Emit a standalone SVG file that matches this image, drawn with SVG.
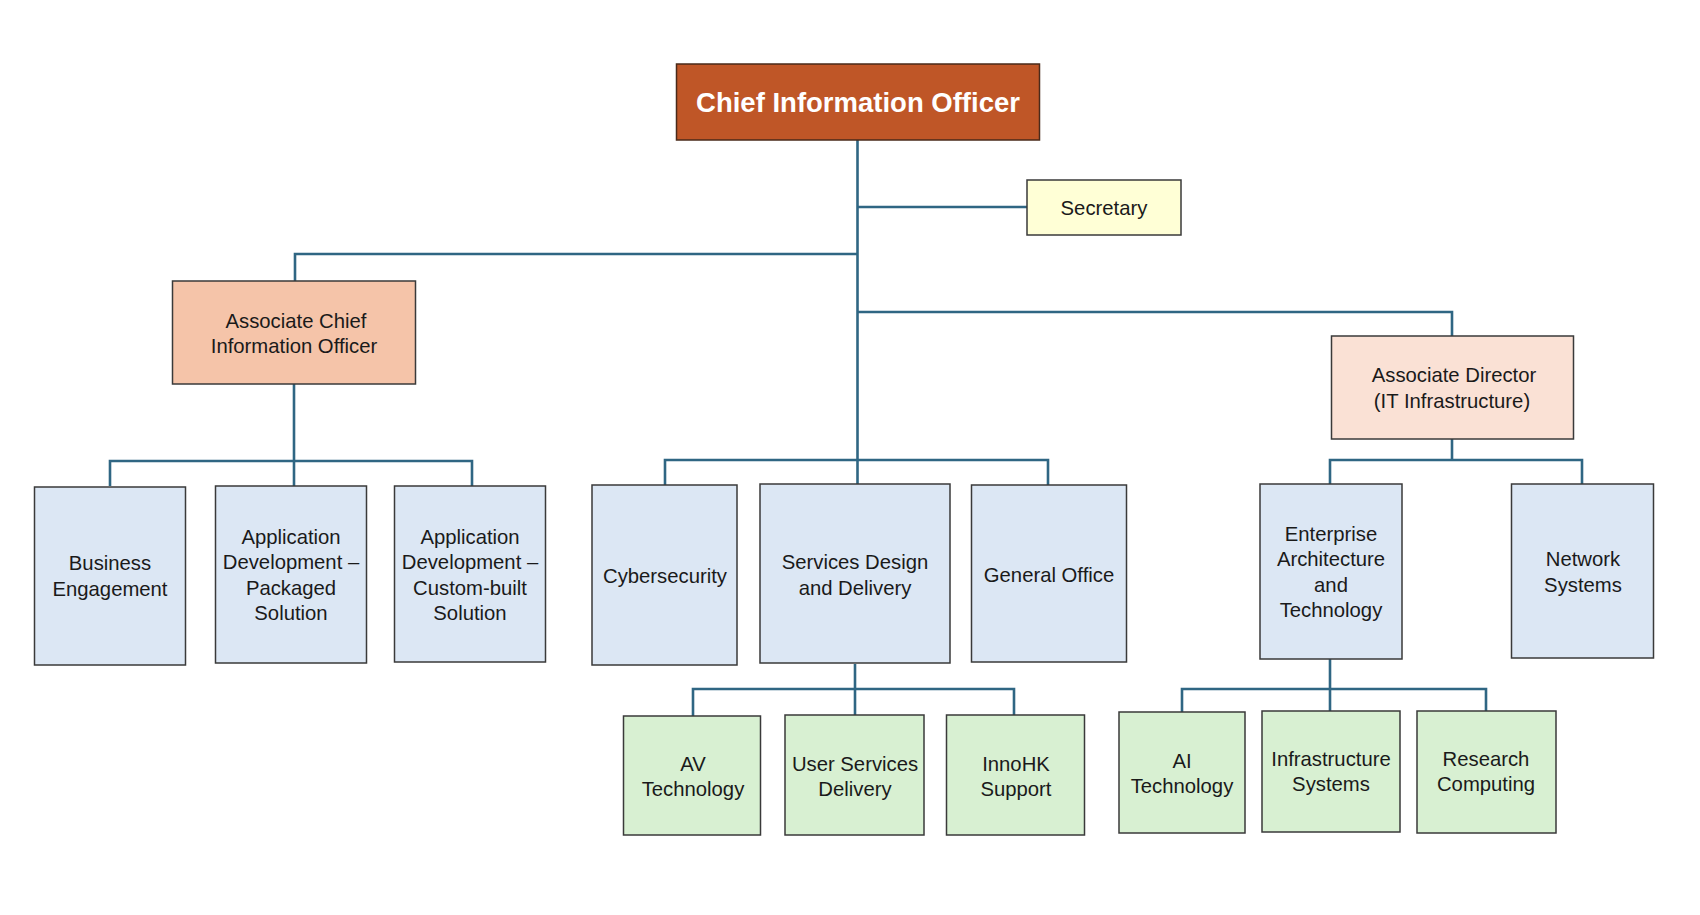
<svg xmlns="http://www.w3.org/2000/svg" width="1700" height="915" viewBox="0 0 1700 915">
<style>
.box{stroke:#3a3a3a;stroke-width:1.5}
.cio{fill:#BF5627;stroke:#4a2a1a;stroke-width:1.5}
.sec{fill:#FFFFD6}
.acio{fill:#F5C4A9}
.adit{fill:#FAE1D5}
.blue{fill:#DCE7F4}
.green{fill:#D8F0D2}
text{font-family:"Liberation Sans",Arial,sans-serif;font-size:20.3px;fill:#1a1a1a;text-anchor:middle}
.title{font-size:27.5px;font-weight:bold;fill:#ffffff}
.conn{fill:none;stroke:#2F6683;stroke-width:2.6}
</style>
<rect width="1700" height="915" fill="#ffffff"/>
<g id="connectors" class="conn">
<path d="M857.5,140 V485"/>
<path d="M857.5,207 H1027"/>
<path d="M857.5,254 H295 V281"/>
<path d="M857.5,312 H1452 V336"/>
<path d="M294,384 V486 M110,486 V461 H472 V486"/>
<path d="M665,485 V460 H1048 V485"/>
<path d="M855,664 V716 M693,716 V689 H1014 V715"/>
<path d="M1452,439 V460 M1330,484 V460 H1582 V484"/>
<path d="M1330,659 V712 M1182,712 V689 H1486 V712"/>
</g>
<g id="cio"><rect class="cio" x="676.5" y="64" width="363" height="76"/><text class="title" x="858" y="111.5">Chief Information Officer</text></g>
<g id="secretary"><rect class="box sec" x="1027" y="180" width="154" height="55"/><text x="1104" y="215">Secretary</text></g>
<g id="acio"><rect class="box acio" x="172.5" y="281" width="243" height="103"/><text x="296" y="327.5">Associate Chief</text><text x="294" y="353">Information Officer</text></g>
<g id="adit"><rect class="box adit" x="1331.5" y="336" width="242" height="103"/><text x="1454" y="382">Associate Director</text><text x="1452" y="408">(IT Infrastructure)</text></g>
<g id="business"><rect class="box blue" x="34.5" y="487" width="151" height="178"/><text x="110" y="570">Business</text><text x="110" y="596">Engagement</text></g>
<g id="appdev-packaged"><rect class="box blue" x="215.5" y="486" width="151" height="177"/><text x="291" y="543.5">Application</text><text x="291" y="569">Development –</text><text x="291" y="594.5">Packaged</text><text x="291" y="620">Solution</text></g>
<g id="appdev-custom"><rect class="box blue" x="394.5" y="486" width="151" height="176"/><text x="470" y="543.5">Application</text><text x="470" y="569">Development –</text><text x="470" y="594.5">Custom-built</text><text x="470" y="620">Solution</text></g>
<g id="cybersecurity"><rect class="box blue" x="592" y="485" width="145" height="180"/><text x="665" y="582.5">Cybersecurity</text></g>
<g id="services-design"><rect class="box blue" x="760" y="484" width="190" height="179"/><text x="855" y="568.5">Services Design</text><text x="855" y="594.5">and Delivery</text></g>
<g id="general-office"><rect class="box blue" x="971.5" y="485" width="155" height="177"/><text x="1049" y="581.5">General Office</text></g>
<g id="enterprise"><rect class="box blue" x="1260" y="484" width="142" height="175"/><text x="1331" y="540.5">Enterprise</text><text x="1331" y="566">Architecture</text><text x="1331" y="591.5">and</text><text x="1331" y="617">Technology</text></g>
<g id="network"><rect class="box blue" x="1511.5" y="484" width="142" height="174"/><text x="1583" y="565.5">Network</text><text x="1583" y="591.5">Systems</text></g>
<g id="av"><rect class="box green" x="623.5" y="716" width="137" height="119"/><text x="693" y="770.5">AV</text><text x="693" y="796">Technology</text></g>
<g id="user-services"><rect class="box green" x="785" y="715" width="139" height="120"/><text x="855" y="770.5">User Services</text><text x="855" y="796">Delivery</text></g>
<g id="innohk"><rect class="box green" x="946.5" y="715" width="138" height="120"/><text x="1016" y="770.5">InnoHK</text><text x="1016" y="796">Support</text></g>
<g id="ai"><rect class="box green" x="1119" y="712" width="126" height="121"/><text x="1182" y="767.5">AI</text><text x="1182" y="793">Technology</text></g>
<g id="infra"><rect class="box green" x="1262" y="711" width="138" height="121"/><text x="1331" y="765.5">Infrastructure</text><text x="1331" y="791">Systems</text></g>
<g id="research"><rect class="box green" x="1417" y="711" width="139" height="122"/><text x="1486" y="765.5">Research</text><text x="1486" y="791">Computing</text></g>
</svg>
